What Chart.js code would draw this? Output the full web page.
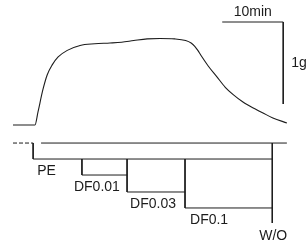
<!DOCTYPE html>
<html>
<head>
<meta charset="utf-8">
<script src="https://cdn.jsdelivr.net/npm/chart.js@4"></script>
<style>
  html, body { margin: 0; padding: 0; background: #fff; }
  canvas { display: block; }
</style>
</head>
<body>
<canvas id="trace" width="307" height="245"></canvas>
<script>
// tension trace: time in min, force in g
const traceTime = [0, 3.6, 4.1, 4.9, 5.6, 6.4, 7.4, 8.9, 11.0, 13.4, 15.9, 17.8, 19.8, 22.0, 24.1, 26.5,
    28.3, 29.2, 29.8, 30.3, 30.8, 32.0, 33.4, 34.8, 36.1, 37.7, 39.3, 40.9, 42.6, 44.9];
const traceForce = [0, 0, 0.16, 0.43, 0.61, 0.73, 0.83, 0.91, 0.97, 0.99, 1.0, 1.01, 1.03, 1.05, 1.055, 1.05,
    1.03, 1.0, 0.96, 0.91, 0.85, 0.72, 0.59, 0.46, 0.37, 0.28, 0.21, 0.15, 0.085, 0.025];

// drug protocol
const steps = ["PE", "DF0.01", "DF0.03", "DF0.1"];
const stepStart = [3.3, 11.3, 18.7, 28.2];
const washoutTime = 42.5;
const protocolEnd = 44.9;

// scale bars
const barTime = 10;   // min
const barForce = 1;   // g

const ink = "#1c1c1c";
const railLevel = -0.22;
const peLevel = -0.415;
const stepLevels = [-0.415, -0.61, -0.817, -1.012];
const washoutBottom = -1.195;
const labelDx = [4, -8, 3, 5];

function seg(points, dash) {
    return {
        data: points.map(p => ({ x: p[0], y: p[1] })),
        borderColor: ink,
        borderWidth: 1,
        borderDash: dash || [],
        pointRadius: 0,
        showLine: true,
        fill: false,
        tension: 0,
    };
}

const datasets = [];
datasets.push({
    data: traceTime.map((t, i) => ({ x: t, y: traceForce[i] })),
    borderColor: ink,
    borderWidth: 1.1,
    pointRadius: 0,
    showLine: true,
    fill: false,
    cubicInterpolationMode: "monotone",
});

// baseline rail
datasets.push(seg([[0, railLevel], [stepStart[0], railLevel]], [4, 2]));
datasets.push(seg([[4.6, railLevel], [protocolEnd, railLevel]]));

// PE bracket
datasets.push(seg([[stepStart[0], railLevel], [stepStart[0], peLevel], [washoutTime, peLevel]]));

// DF steps
for (let i = 1; i < steps.length; i++) {
    const end = i + 1 < steps.length ? stepStart[i + 1] : washoutTime;
    datasets.push(seg([[stepStart[i], peLevel], [stepStart[i], stepLevels[i]], [end, stepLevels[i]]]));
}

// washout
datasets.push(seg([[washoutTime, railLevel], [washoutTime, washoutBottom]]));

// scale bar
const barX = protocolEnd - 0.6;
const barTop = 1.256;
datasets.push(seg([[barX - barTime, barTop], [barX, barTop], [barX, barTop - barForce]]));

const labelPlugin = {
    id: "labels",
    afterDatasetsDraw(chart) {
        const c = chart.ctx;
        const xs = chart.scales.x, ys = chart.scales.y;
        c.save();
        c.fillStyle = ink;
        c.font = "14px 'Liberation Sans', Arial, sans-serif";
        c.textBaseline = "middle";
        c.textAlign = "left";
        steps.forEach((s, i) => {
            c.fillText(s, xs.getPixelForValue(stepStart[i]) + labelDx[i], ys.getPixelForValue(stepLevels[i]) + 12);
        });
        c.textAlign = "center";
        c.fillText("W/O", xs.getPixelForValue(washoutTime) + 1, ys.getPixelForValue(washoutBottom) + 13);
        c.fillText(barTime + "min", xs.getPixelForValue(barX - barTime / 2), ys.getPixelForValue(barTop) - 10);
        c.textAlign = "left";
        c.fillText(barForce + "g", xs.getPixelForValue(barX) + 8, ys.getPixelForValue(barTop - barForce / 2));
        c.restore();
    },
};

new Chart(document.getElementById("trace").getContext("2d"), {
    type: "scatter",
    data: { datasets: datasets },
    options: {
        responsive: false,
        animation: false,
        layout: { padding: 0 },
        plugins: { legend: { display: false }, tooltip: { enabled: false } },
        scales: {
            x: { type: "linear", display: false, min: -13 / 6.1, max: 294 / 6.1 },
            y: { type: "linear", display: false, min: -120 / 82, max: 125 / 82 },
        },
    },
    plugins: [labelPlugin],
});
</script>
</body>
</html>
